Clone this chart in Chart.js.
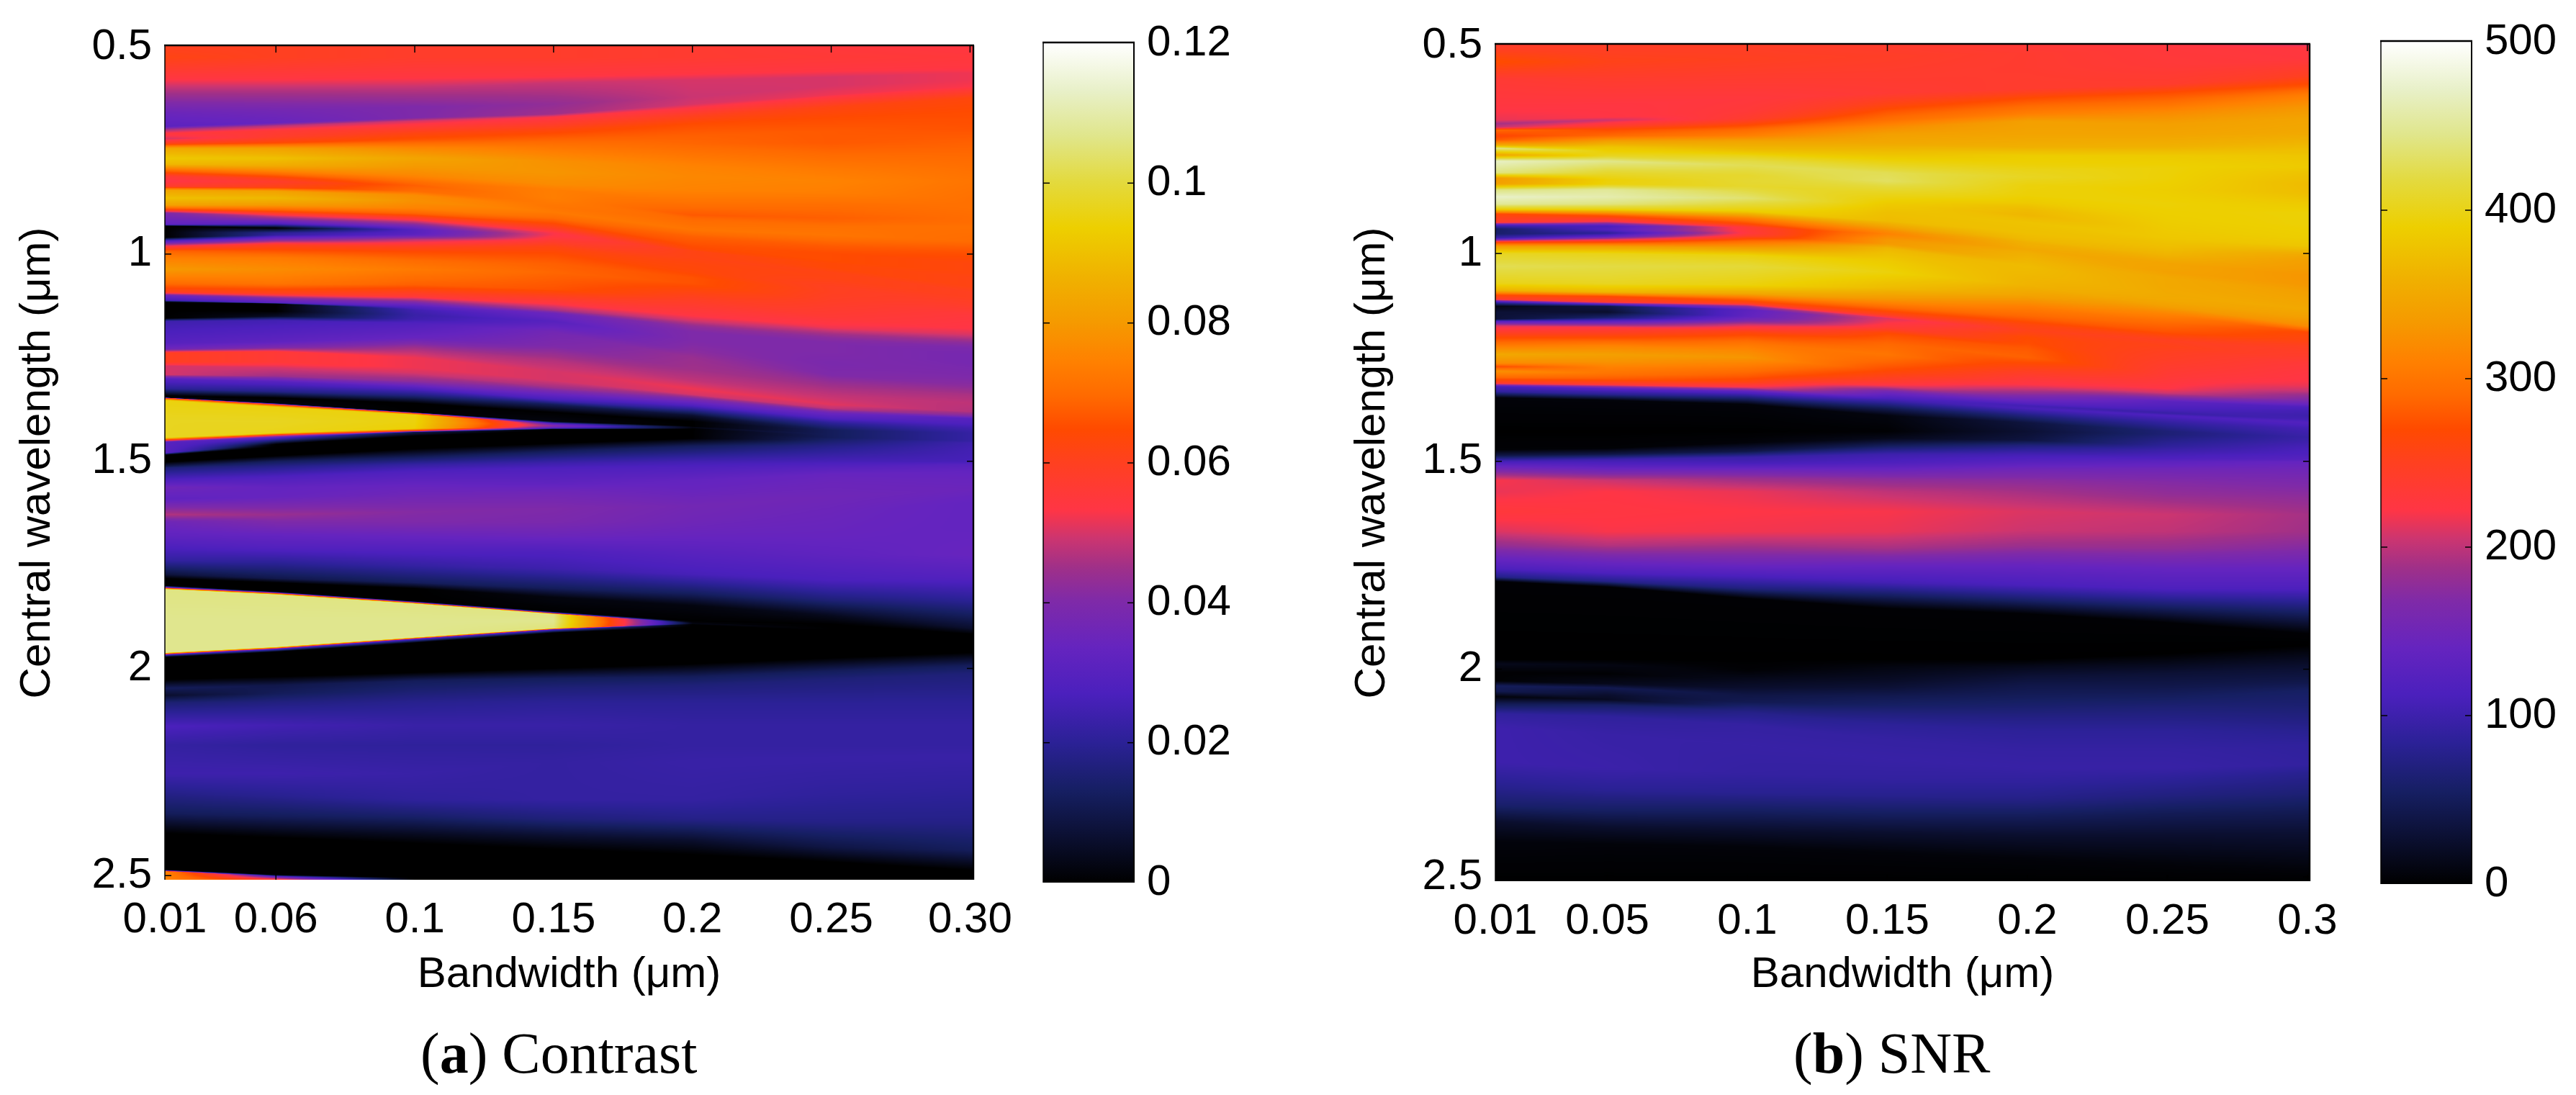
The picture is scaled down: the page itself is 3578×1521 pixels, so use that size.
<!DOCTYPE html>
<html><head><meta charset="utf-8">
<style>
html,body{margin:0;padding:0;background:#fff;width:3578px;height:1521px;overflow:hidden}
canvas{position:absolute}
.cap{position:absolute;font-family:'Liberation Serif',serif;font-size:80px;line-height:90px;color:#000;white-space:pre;top:1418px}
</style>
<script src="https://cdn.jsdelivr.net/npm/chart.js@4"></script>
</head><body>
<div class="cap" style="left:584px">(<b>a</b>) Contrast</div>
<div class="cap" style="left:2491px">(<b>b</b>) SNR</div>
<script>
const bandwidths=[0.01,0.05,0.1,0.15,0.2,0.25,0.3];
const wavelengthTicks=[0.5,1,1.5,2,2.5];
const wavelengthLabels=['0.5','1','1.5','2','2.5'];
const contrastXLabels=['0.01','0.06','0.1','0.15','0.2','0.25','0.30'];
const snrXLabels=['0.01','0.05','0.1','0.15','0.2','0.25','0.3'];
const contrastTicks=[0,0.02,0.04,0.06,0.08,0.1,0.12];
const contrastTickLabels=['0','0.02','0.04','0.06','0.08','0.1','0.12'];
const snrTicks=[0,100,200,300,400,500];
const snrTickLabels=['0','100','200','300','400','500'];
const mapStops=[0,.11,.167,.225,.28,.336,.376,.41,.444,.5,.54,.58,.62,.668,.718,.78,.836,.89,.943,1];
const mapColors=['#000000','#161F63','#2B2196','#4B20BD','#6524BF','#7F2AA8','#A03088','#CC3570','#FF3545','#FF4020','#FF4A00','#FF6A00','#FF8000','#F59A00','#F0B000','#EDCF00','#E3DA3F','#E0E68C','#E8F0C8','#FFFFFF'];

// each row is one band traced across the bandwidth columns: its wavelength, and its level
const contrastWave=[
[.498,.498,.498,.498,.498,.498,.498],[.525,.525,.525,.525,.525,.525,.525],
[.576,.576,.573,.570,.563,.556,.549],[.604,.604,.600,.587,.580,.573,.563],
[.659,.655,.645,.638,.621,.594,.580],[.692,.683,.671,.662,.638,.616,.596],
[.699,.690,.679,.669,.649,.624,.604],[.710,.703,.695,.686,.666,.645,.624],
[.722,.717,.708,.701,.686,.673,.659],[.734,.731,.724,.721,.714,.703,.697],
[.745,.745,.745,.741,.734,.731,.728],[.769,.769,.769,.776,.789,.796,.796],
[.783,.786,.789,.803,.813,.824,.824],[.796,.800,.810,.831,.844,.851,.865],
[.813,.817,.827,.844,.879,.886,.886],[.824,.825,.834,.865,.906,.913,.913],
[.837,.839,.848,.875,.913,.923,.923],[.846,.848,.858,.886,.920,.934,.934],
[.865,.865,.872,.899,.941,.954,.968],[.882,.882,.889,.913,.958,.982,.995],
[.892,.896,.903,.923,.975,.999,1.023],[.901,.908,.913,.937,.982,1.016,1.044],
[.929,.927,.930,.949,.989,1.023,1.057],[.932,.937,.941,.954,.992,1.026,1.064],
[.947,.949,.949,.958,.995,1.030,1.071],[.960,.954,.954,.961,.999,1.033,1.078],
[.967,.962,.965,.971,1.009,1.044,1.092],[.982,.978,.982,.982,1.023,1.057,1.105],
[.992,.992,.995,.999,1.044,1.078,1.126],[1.009,1.009,1.016,1.023,1.057,1.092,1.133],
[1.037,1.037,1.037,1.044,1.071,1.112,1.147],[1.071,1.071,1.074,1.085,1.105,1.153,1.181],
[1.092,1.095,1.102,1.119,1.147,1.178,1.195],[1.100,1.107,1.116,1.136,1.160,1.191,1.215],
[1.112,1.118,1.126,1.143,1.174,1.202,1.229],[1.116,1.120,1.134,1.153,1.188,1.215,1.243],
[1.136,1.138,1.147,1.162,1.208,1.236,1.263],[1.155,1.150,1.157,1.171,1.236,1.263,1.298],
[1.162,1.160,1.167,1.188,1.250,1.291,1.318],[1.215,1.212,1.202,1.222,1.277,1.318,1.339],
[1.229,1.226,1.226,1.257,1.305,1.339,1.360],[1.239,1.236,1.250,1.284,1.325,1.363,1.380],
[1.260,1.260,1.274,1.305,1.339,1.373,1.391],[1.270,1.274,1.287,1.322,1.349,1.384,1.397],
[1.291,1.294,1.308,1.336,1.363,1.397,1.408],[1.301,1.308,1.322,1.353,1.377,1.408,1.421],
[1.325,1.332,1.342,1.363,1.390,1.425,1.432],[1.342,1.347,1.360,1.382,1.404,1.428,1.439],
[1.346,1.360,1.382,1.404,1.415,1.432,1.442],[1.347,1.363,1.384,1.409,1.416,1.433,1.443],
[1.353,1.369,1.388,1.412,1.417,1.434,1.445],[1.401,1.404,1.404,1.415,1.419,1.436,1.446],
[1.443,1.432,1.421,1.417,1.420,1.437,1.448],[1.449,1.437,1.427,1.420,1.421,1.439,1.449],
[1.454,1.443,1.430,1.423,1.423,1.440,1.450],[1.480,1.459,1.439,1.426,1.424,1.441,1.452],
[1.485,1.466,1.443,1.428,1.426,1.443,1.453],[1.502,1.487,1.470,1.457,1.445,1.449,1.456],
[1.514,1.500,1.490,1.476,1.463,1.463,1.470],[1.515,1.512,1.508,1.505,1.501,1.501,1.501],
[1.546,1.539,1.525,1.519,1.515,1.512,1.508],[1.563,1.563,1.560,1.553,1.546,1.532,1.525],
[1.591,1.587,1.580,1.574,1.567,1.553,1.539],[1.629,1.629,1.622,1.615,1.608,1.587,1.567],
[1.646,1.646,1.646,1.646,1.646,1.622,1.601],[1.680,1.680,1.680,1.680,1.680,1.677,1.656],
[1.704,1.708,1.711,1.718,1.725,1.725,1.725],[1.738,1.745,1.752,1.759,1.773,1.787,1.780],
[1.773,1.783,1.793,1.807,1.821,1.835,1.835],[1.783,1.793,1.807,1.828,1.848,1.872,1.903],
[1.800,1.815,1.838,1.863,1.886,1.893,1.917],[1.804,1.817,1.840,1.866,1.888,1.896,1.920],
[1.809,1.822,1.844,1.869,1.890,1.900,1.924],[1.883,1.886,1.886,1.886,1.891,1.903,1.927],
[1.962,1.948,1.925,1.903,1.892,1.907,1.931],[1.967,1.953,1.929,1.906,1.894,1.910,1.934],
[1.973,1.960,1.938,1.914,1.900,1.917,1.938],[2.027,2.020,2.010,2.000,1.989,1.975,1.962],
[2.048,2.041,2.030,2.024,2.020,2.006,1.993],[2.065,2.061,2.054,2.048,2.041,2.027,2.013],
[2.082,2.082,2.082,2.082,2.082,2.082,2.082],[2.140,2.137,2.137,2.137,2.137,2.137,2.137],
[2.185,2.185,2.185,2.185,2.185,2.185,2.185],[2.254,2.254,2.254,2.226,2.226,2.219,2.212],
[2.302,2.309,2.316,2.316,2.316,2.302,2.288],[2.350,2.357,2.357,2.364,2.364,2.370,2.370],
[2.381,2.391,2.401,2.405,2.415,2.432,2.439],[2.398,2.408,2.422,2.436,2.449,2.467,2.487],
[2.482,2.491,2.501,2.508,2.509,2.510,2.510],[2.486,2.498,2.505,2.509,2.510,2.510,2.510],
[2.490,2.502,2.507,2.510,2.510,2.510,2.510],[2.510,2.510,2.510,2.510,2.510,2.510,2.510]];
const contrastLevel=[
[.060,.060,.058,.058,.057,.055,.054],[.062,.060,.058,.058,.057,.056,.055],
[.054,.054,.054,.054,.054,.054,.054],[.047,.047,.048,.049,.050,.050,.052],
[.035,.037,.040,.043,.049,.050,.052],[.031,.034,.040,.045,.050,.052,.053],
[.045,.047,.050,.053,.054,.055,.056],[.055,.056,.057,.058,.060,.062,.063],
[.050,.058,.062,.063,.065,.065,.065],[.062,.064,.066,.068,.068,.067,.066],
[.084,.082,.076,.072,.069,.067,.068],[.092,.090,.083,.078,.075,.073,.071],
[.088,.085,.080,.079,.076,.075,.072],[.072,.075,.076,.077,.075,.074,.071],
[.056,.062,.070,.074,.071,.070,.071],[.053,.058,.068,.074,.067,.068,.070],
[.058,.062,.070,.073,.069,.069,.070],[.083,.082,.077,.072,.070,.071,.071],
[.090,.088,.078,.073,.072,.072,.070],[.082,.080,.075,.070,.068,.067,.066],
[.065,.066,.068,.066,.066,.065,.063],[.040,.050,.058,.060,.065,.065,.063],
[.032,.028,.040,.053,.064,.064,.062],[0,0,.030,.053,.062,.064,.062],
[0,.020,.030,.054,.062,.064,.062],[0,.022,.032,.055,.062,.064,.062],
[.025,.035,.048,.058,.062,.062,.060],[.055,.060,.060,.062,.063,.062,.060],
[.068,.066,.065,.065,.064,.060,.058],[.074,.073,.070,.068,.066,.060,.057],
[.080,.077,.073,.069,.066,.059,.055],[.070,.072,.068,.066,.060,.056,.053],
[.060,.060,.056,.054,.054,.052,.050],[.035,.040,.040,.045,.050,.046,.042],
[.025,.030,.030,.035,.043,.042,.039],[0,0,.025,.033,.040,.040,.038],
[0,0,.023,.030,.040,.040,.038],[0,.005,.024,.032,.042,.039,.040],
[.024,.025,.028,.037,.044,.040,.042],[.030,.032,.034,.040,.045,.045,.046],
[.036,.040,.045,.047,.048,.048,.048],[.060,.056,.052,.050,.052,.051,.047],
[.060,.056,.052,.050,.050,.048,.040],[.050,.050,.050,.045,.040,.035,.030],
[.050,.045,.042,.035,.030,.028,.028],[.030,.030,.030,.025,.018,.020,.024],
[.020,.018,.016,.012,.006,.012,.022],[0,0,0,0,0,.012,.022],
[.002,.002,0,.002,0,.012,.022],[.055,.055,.055,.030,0,.012,.022],
[.095,.095,.095,.036,.002,.012,.022],[.097,.097,.095,.042,.002,.012,.022],
[.097,.096,.094,.036,.002,.012,.022],[.060,.055,.055,.030,0,.012,.022],
[.030,.030,.010,0,0,.012,.022],[.030,0,0,0,0,.012,.022],
[0,0,0,0,0,.012,.023],[0,0,0,0,0,.014,.024],
[.012,.012,.012,.012,.012,.018,.025],[.015,.018,.022,.024,.025,.026,.026],
[.028,.028,.028,.028,.028,.029,.030],[.036,.033,.034,.032,.033,.034,.033],
[.032,.034,.036,.036,.034,.035,.034],[.047,.044,.041,.040,.037,.036,.035],
[.036,.040,.040,.039,.036,.035,.033],[.032,.033,.034,.035,.034,.034,.033],
[.028,.029,.029,.028,.030,.032,.034],[.022,.020,.022,.024,.026,.027,.029],
[.008,.010,.012,.012,.012,.016,.020],[0,0,0,.002,.002,.004,.006],
[0,0,0,0,0,0,0],[.030,.030,.030,.030,.001,0,0],
[.106,.106,.106,.106,.001,0,0],[.107,.107,.107,.107,.003,0,0],
[.107,.107,.107,.105,.002,0,0],[.030,.030,.030,.030,0,0,0],
[0,0,0,0,0,0,0],[0,0,0,0,0,0,0],
[.012,.010,.012,.012,.012,.012,.012],[.006,.012,.015,.016,.016,.016,.016],
[.015,.017,.019,.020,.020,.020,.020],[.027,.025,.023,.023,.022,.022,.022],
[.022,.021,.021,.021,.022,.022,.022],[.024,.024,.023,.022,.023,.023,.023],
[.018,.019,.021,.022,.022,.021,.021],[.012,.012,.014,.016,.018,.018,.018],
[.004,.004,.004,.006,.006,.009,.012],[0,0,0,0,0,0,0],
[0,0,0,0,0,0,0],[0,0,0,0,0,0,0],
[.075,.030,0,0,0,0,0],[.075,.060,0,0,0,0,0]];

const snrWave=[
[.498,.498,.498,.498,.498,.498,.498],[.539,.539,.532,.525,.518,.511,.505],
[.580,.580,.573,.566,.552,.546,.532],[.648,.641,.628,.614,.604,.593,.573],
[.679,.672,.658,.641,.628,.614,.597],[.688,.679,.676,.662,.645,.638,.617],
[.697,.693,.689,.679,.665,.662,.648],[.703,.702,.702,.696,.682,.689,.676],
[.717,.717,.717,.713,.713,.713,.710],[.727,.730,.730,.734,.744,.744,.737],
[.739,.744,.751,.754,.765,.765,.765],[.747,.754,.765,.778,.785,.792,.792],
[.763,.765,.778,.788,.799,.795,.806],[.778,.778,.788,.806,.816,.819,.833],
[.806,.806,.812,.826,.836,.847,.853],[.819,.823,.826,.840,.860,.881,.881],
[.832,.833,.838,.853,.877,.901,.901],[.847,.847,.850,.867,.894,.922,.929],
[.864,.864,.867,.881,.908,.942,.963],[.881,.881,.881,.901,.925,.963,.983],
[.894,.894,.898,.922,.949,.990,1.004],[.905,.908,.915,.935,.966,1.004,1.018],
[.925,.923,.930,.946,.973,1.018,1.038],[.932,.934,.937,.953,.983,1.024,1.052],
[.941,.942,.946,.959,.990,1.031,1.062],[.953,.951,.951,.966,1.000,1.045,1.076],
[.963,.959,.957,.977,1.018,1.059,1.093],[.973,.970,.970,.987,1.031,1.079,1.113],
[.983,.983,.987,1.000,1.045,1.100,1.134],[1.000,1.000,1.004,1.018,1.059,1.113,1.154],
[1.031,1.031,1.031,1.045,1.076,1.127,1.175],[1.072,1.072,1.076,1.083,1.100,1.148,1.189],
[1.089,1.093,1.096,1.110,1.127,1.168,1.195],[1.100,1.103,1.110,1.130,1.154,1.189,1.209],
[1.110,1.117,1.120,1.148,1.171,1.202,1.223],[1.117,1.122,1.127,1.156,1.185,1.209,1.236],
[1.127,1.127,1.135,1.161,1.195,1.223,1.250],[1.141,1.141,1.151,1.168,1.202,1.236,1.264],
[1.158,1.154,1.161,1.178,1.216,1.257,1.284],[1.163,1.165,1.171,1.192,1.230,1.271,1.305],
[1.174,1.178,1.189,1.216,1.250,1.291,1.319],[1.195,1.202,1.216,1.243,1.277,1.312,1.332],
[1.219,1.223,1.236,1.264,1.298,1.325,1.342],[1.243,1.243,1.250,1.281,1.315,1.336,1.353],
[1.264,1.260,1.267,1.295,1.325,1.346,1.363],[1.272,1.274,1.281,1.308,1.339,1.356,1.370],
[1.283,1.288,1.295,1.319,1.349,1.366,1.380],[1.298,1.302,1.308,1.332,1.360,1.377,1.390],
[1.312,1.315,1.322,1.346,1.366,1.384,1.399],[1.320,1.325,1.332,1.353,1.373,1.390,1.407],
[1.332,1.339,1.346,1.373,1.390,1.407,1.421],[1.347,1.353,1.363,1.390,1.407,1.428,1.442],
[1.428,1.428,1.428,1.428,1.428,1.435,1.449],[1.472,1.469,1.455,1.445,1.449,1.462,1.469],
[1.486,1.483,1.476,1.462,1.462,1.476,1.483],[1.500,1.496,1.490,1.483,1.483,1.493,1.496],
[1.512,1.508,1.505,1.503,1.501,1.501,1.501],[1.529,1.529,1.522,1.522,1.519,1.519,1.519],
[1.546,1.546,1.542,1.542,1.546,1.549,1.553],[1.573,1.573,1.573,1.573,1.573,1.580,1.580],
[1.621,1.621,1.621,1.621,1.621,1.628,1.628],[1.669,1.669,1.669,1.669,1.666,1.669,1.669],
[1.703,1.703,1.703,1.710,1.703,1.710,1.710],[1.731,1.737,1.744,1.751,1.751,1.758,1.758],
[1.758,1.768,1.778,1.792,1.799,1.806,1.806],[1.778,1.789,1.806,1.819,1.833,1.847,1.854],
[1.789,1.802,1.830,1.854,1.867,1.888,1.915],[1.977,1.977,1.977,1.977,1.977,1.963,1.943],
[1.987,1.990,2.004,1.997,1.994,1.987,1.970],[2.008,2.011,2.025,2.025,2.018,2.011,1.997],
[2.028,2.035,2.045,2.045,2.038,2.038,2.032],[2.040,2.045,2.062,2.066,2.066,2.066,2.052],
[2.053,2.062,2.079,2.086,2.093,2.093,2.086],[2.066,2.073,2.090,2.107,2.120,2.120,2.114],
[2.083,2.086,2.103,2.134,2.148,2.148,2.148],[2.107,2.114,2.134,2.168,2.196,2.196,2.182],
[2.141,2.155,2.182,2.216,2.237,2.237,2.230],[2.223,2.237,2.250,2.264,2.271,2.264,2.250],
[2.285,2.291,2.298,2.305,2.312,2.305,2.298],[2.326,2.339,2.346,2.353,2.353,2.346,2.346],
[2.367,2.380,2.387,2.394,2.401,2.401,2.394],[2.415,2.421,2.428,2.442,2.456,2.469,2.483],
[2.510,2.510,2.510,2.510,2.510,2.510,2.510]];
const snrLevel=[
[240,245,245,240,232,226,210],[272,255,250,245,238,230,226],
[235,240,240,240,238,232,228],[225,225,228,235,240,240,250],
[215,222,232,258,272,272,275],[190,205,240,280,290,295,305],
[205,240,265,295,310,320,330],[290,270,290,320,340,340,345],
[265,290,310,340,345,345,350],[280,340,345,350,358,360,365],
[350,380,370,370,388,385,380],[445,390,400,395,392,392,385],
[345,405,420,405,400,393,378],[470,445,425,425,405,392,370],
[440,410,410,430,395,388,372],[335,392,412,415,392,392,385],
[340,395,410,405,385,390,392],[440,450,420,395,370,388,392],
[472,460,435,385,365,385,388],[450,440,415,375,378,382,380],
[390,395,390,370,375,370,350],[265,280,310,345,368,362,340],
[240,220,265,320,360,350,335],[110,110,235,312,355,345,330],
[55,120,230,320,350,345,330],[60,85,228,330,358,342,332],
[100,130,240,335,365,350,340],[260,250,290,365,370,350,345],
[340,340,340,375,368,352,350],[405,400,395,385,365,350,340],
[425,420,415,395,362,340,320],[400,405,395,370,345,310,270],
[360,365,350,330,310,290,265],[270,270,285,290,285,275,260],
[240,240,250,250,262,258,250],[100,130,180,210,255,250,245],
[10,40,130,215,262,255,240],[30,25,135,222,270,250,232],
[30,60,160,235,272,245,226],[120,140,205,270,280,240,222],
[210,225,260,288,285,235,215],[255,270,300,300,255,228,200],
[300,315,320,285,235,222,180],[350,340,330,270,222,205,165],
[320,328,310,255,205,170,140],[270,310,295,240,175,130,115],
[325,300,280,215,150,120,105],[290,280,262,155,125,108,100],
[240,235,215,118,105,95,105],[110,125,130,100,110,115,120],
[90,80,70,45,70,90,105],[5,5,5,8,35,65,95],
[0,0,0,2,28,65,98],[3,3,5,15,35,85,110],
[40,40,40,50,70,100,115],[105,100,95,100,105,115,125],
[140,120,110,115,125,130,140],[180,165,150,145,150,150,150],
[220,205,185,175,175,170,165],[215,222,215,200,190,180,175],
[230,225,222,220,210,205,190],[210,220,218,215,205,200,188],
[180,195,190,190,185,180,170],[145,150,150,140,140,140,140],
[115,115,110,105,110,115,115],[75,75,70,60,60,60,65],
[2,2,2,2,2,2,2],[0,0,0,0,0,0,0],
[15,10,3,10,15,15,15],[2,2,15,20,30,30,28],
[2,15,25,30,40,40,42],[50,45,38,45,50,52,55],
[45,25,45,55,62,65,62],[5,18,60,70,75,75,70],
[45,55,75,85,85,85,80],[88,88,92,92,92,92,88],
[100,95,95,95,95,95,90],[100,98,92,90,88,85,80],
[78,82,80,78,75,70,65],[60,55,50,50,50,48,45],
[25,25,25,25,25,25,28],[6,5,5,5,5,5,5],
[0,0,0,0,0,0,0]];

function hexRGB(h){return [1,3,5].map(i=>parseInt(h.slice(i,i+2),16));}
const stopRGB=mapColors.map(hexRGB);
function colorAt(f){
  f=Math.min(1,Math.max(0,f));
  let i=0;while(i<mapStops.length-2&&f>mapStops[i+1])i++;
  const t=(f-mapStops[i])/(mapStops[i+1]-mapStops[i]);
  return stopRGB[i].map((c,k)=>c+(stopRGB[i+1][k]-c)*t);
}
const LUT=[];for(let i=0;i<=1024;i++)LUT.push(colorAt(i/1024));

const heatmapPlugin={id:'heatmap',beforeDatasetsDraw(chart,_,o){
  const a=chart.chartArea,xS=chart.scales.x,yS=chart.scales.y;
  const W=Math.round(a.right-a.left),H=Math.round(a.bottom-a.top);
  const off=document.createElement('canvas');off.width=W;off.height=H;
  const g=off.getContext('2d'),img=g.createImageData(W,H),d=img.data;
  const rows=o.wave.length,L=new Float64Array(rows),V=new Float64Array(rows);
  for(let px=0;px<W;px++){
    const bw=Math.min(bandwidths[6],Math.max(bandwidths[0],xS.getValueForPixel(a.left+px+.5)));
    let c=0;while(c<bandwidths.length-2&&bw>bandwidths[c+1])c++;
    const t=(bw-bandwidths[c])/(bandwidths[c+1]-bandwidths[c]);
    for(let r=0;r<rows;r++){
      L[r]=o.wave[r][c]+(o.wave[r][c+1]-o.wave[r][c])*t;
      V[r]=o.level[r][c]+(o.level[r][c+1]-o.level[r][c])*t;
    }
    let r=0;
    for(let py=0;py<H;py++){
      const lam=yS.getValueForPixel(a.top+py+.5);
      while(r<rows-2&&lam>L[r+1])r++;
      const span=L[r+1]-L[r];
      const u=span>1e-6?Math.min(1,Math.max(0,(lam-L[r])/span)):1;
      const v=V[r]+(V[r+1]-V[r])*u;
      const rgb=LUT[Math.round(Math.min(1,v/o.max)*1024)];
      const k=(py*W+px)*4;
      d[k]=rgb[0];d[k+1]=rgb[1];d[k+2]=rgb[2];d[k+3]=255;
    }
  }
  g.putImageData(img,0,0);
  chart.ctx.drawImage(off,a.left,a.top);
}};
const framePlugin={id:'frame',afterDraw(chart){
  const ctx=chart.ctx,a=chart.chartArea;ctx.save();ctx.strokeStyle='#000';
  const line=(w,x1,y1,x2,y2)=>{ctx.lineWidth=w;ctx.beginPath();ctx.moveTo(x1,y1);ctx.lineTo(x2,y2);ctx.stroke();};
  const isBar=chart.config.type==='bar';
  line(2.4,a.left-1,a.top-1,a.right+1,a.top-1);
  line(isBar?2:2.4,a.right,a.top-1,a.right,a.bottom);
  line(1.5,a.left,a.top-1,a.left,a.bottom);
  if(!isBar){
    chart.scales.x.ticks.forEach(t=>{const x=chart.scales.x.getPixelForValue(t.value);if(x<=a.left+2)return;
      line(1.5,x,a.top,x,a.top+9);line(1.5,x,a.bottom,x,a.bottom-9);});
  }
  chart.scales.y.ticks.forEach(t=>{const y=chart.scales.y.getPixelForValue(t.value);
    if(y<=a.top+2||y>=a.bottom-2)return;
    line(1.5,a.left,y,a.left+9,y);line(1.5,a.right,y,a.right-9,y);});
  ctx.restore();
}};
const tickFont={family:"'Liberation Sans',Arial,sans-serif",size:60};
const titleFont={family:"'Liberation Sans',Arial,sans-serif",size:60};
function mount(x,y,w,h){const c=document.createElement('canvas');c.width=w;c.height=h;
  c.style.cssText=`left:${x}px;top:${y}px;width:${w}px;height:${h}px`;document.body.appendChild(c);return c;}

function heat(box,area,xMin,xMax,yMin,yMax,xLabels,wave,level,max,name,yTitlePad){
  const pts=[];wave.forEach((row,r)=>row.forEach((l,c)=>pts.push({x:bandwidths[c],y:l,v:level[r][c]})));
  new Chart(mount(box.x,box.y,box.w,box.h),{type:'scatter',
    data:{datasets:[{label:name,data:pts,pointRadius:0,pointHoverRadius:0,showLine:false}]},
    plugins:[heatmapPlugin,framePlugin],
    options:{responsive:false,animation:false,devicePixelRatio:1,events:[],
      layout:{padding:{left:0,top:area.top-box.y,right:box.x+box.w-area.right,bottom:0}},
      plugins:{legend:{display:false},tooltip:{enabled:false},heatmap:{wave,level,max}},
      scales:{
        x:{type:'linear',min:xMin,max:xMax,grid:{display:false,drawTicks:false},border:{display:false},
          afterBuildTicks:s=>{s.ticks=bandwidths.map(v=>({value:v}));},
          afterFit:s=>{s.height=box.y+box.h-area.bottom;s.paddingLeft=0;s.paddingRight=0;},
          ticks:{autoSkip:false,maxRotation:0,minRotation:0,color:'#000',font:tickFont,padding:20,callback:(v,i)=>xLabels[i]},
          title:{display:true,text:'Bandwidth (\u03BCm)',color:'#000',font:titleFont,padding:{top:0,bottom:31}}},
        y:{type:'linear',reverse:true,min:yMin,max:yMax,grid:{display:false,drawTicks:false},border:{display:false},
          afterBuildTicks:s=>{s.ticks=wavelengthTicks.map(v=>({value:v}));},
          afterFit:s=>{s.width=area.left-box.x;s.paddingTop=0;s.paddingBottom=0;},
          ticks:{autoSkip:false,color:'#000',font:tickFont,padding:18,callback:(v,i)=>wavelengthLabels[i]},
          title:{display:true,text:'Central wavelength (\u03BCm)',color:'#000',font:titleFont,padding:{top:yTitlePad,bottom:0}}}
      }}});
}
function colorbar(box,area,max,ticks,labels,name){
  new Chart(mount(box.x,box.y,box.w,box.h),{type:'bar',
    data:{labels:[''],datasets:[{label:name,data:[[0,max]],barPercentage:1,categoryPercentage:1,borderWidth:0,
      backgroundColor:c=>{const ch=c.chart;if(!ch.chartArea)return '#000';
        const y=ch.scales.y,g=ch.ctx.createLinearGradient(0,y.getPixelForValue(0),0,y.getPixelForValue(max));
        mapStops.forEach((s,i)=>g.addColorStop(s,mapColors[i]));return g;}}]},
    plugins:[framePlugin],
    options:{responsive:false,animation:false,devicePixelRatio:1,events:[],
      layout:{padding:{left:area.left-box.x,top:area.top-box.y,right:0,bottom:box.y+box.h-area.bottom}},
      plugins:{legend:{display:false},tooltip:{enabled:false}},
      scales:{
        x:{display:false},
        y:{position:'right',min:0,max,grid:{display:false,drawTicks:false},border:{display:false},
          afterBuildTicks:s=>{s.ticks=ticks.map(v=>({value:v}));},
          afterFit:s=>{s.width=box.x+box.w-area.right;},
          ticks:{autoSkip:false,color:'#000',font:tickFont,padding:18,callback:(v,i)=>labels[i]}}
      }}});
}
heat({x:0,y:0,w:1420,h:1421},{left:229,top:64,right:1352,bottom:1222},.01,.3012,.498,2.51,contrastXLabels,contrastWave,contrastLevel,.12,'Contrast',16);
colorbar({x:1420,y:0,w:300,h:1300},{left:1449,top:60,right:1575,bottom:1226},.12,contrastTicks,contrastTickLabels,'Contrast scale');
heat({x:1854,y:0,w:1426,h:1421},{left:2077,top:62,right:3208,bottom:1224},.01,.3008,.4976,2.51,snrXLabels,snrWave,snrLevel,500,'SNR',16);
colorbar({x:3280,y:0,w:298,h:1300},{left:3307,top:58,right:3433,bottom:1228},500,snrTicks,snrTickLabels,'SNR scale');
</script>
</body></html>
